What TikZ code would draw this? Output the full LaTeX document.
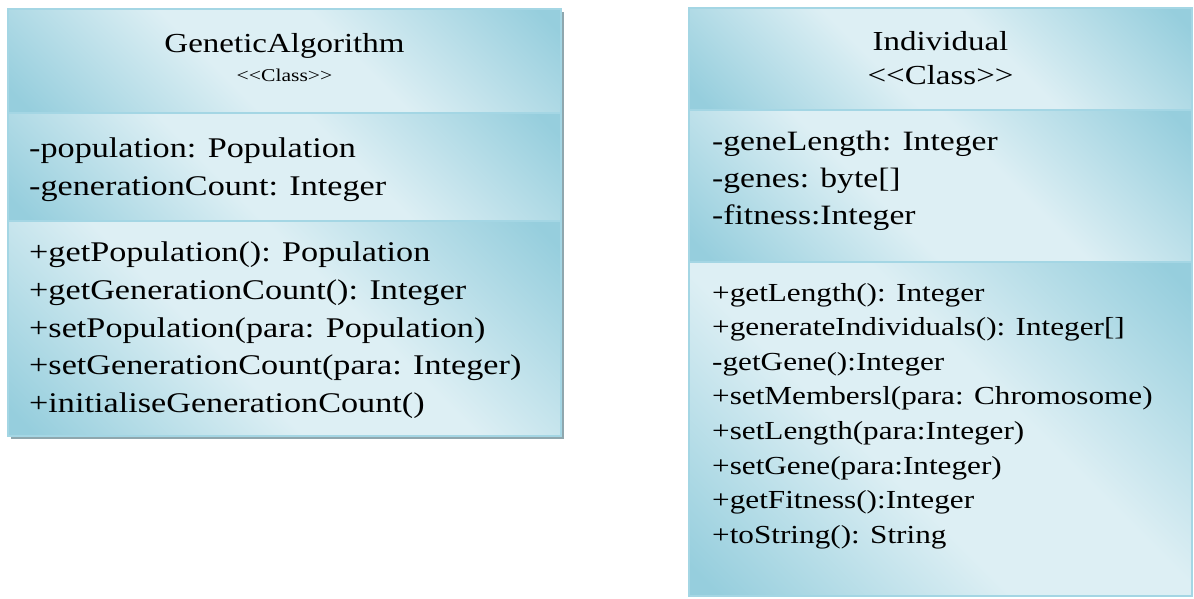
\documentclass[tikz,border=0pt]{standalone}
\usepackage{fontspec}
\setmainfont[FakeStretch=1.2]{Liberation Serif}
\usetikzlibrary{calc}
\definecolor{umlDark}{HTML}{96CEDD}
\definecolor{umlLight}{HTML}{DDEFF4}
\definecolor{umlEdge}{HTML}{A4D6E4}
\definecolor{umlShadow}{HTML}{8FA7AE}
\pgfdeclarehorizontalshading{umlGlass}{100bp}{color(0bp)=(umlDark); color(17bp)=(umlDark); color(42bp)=(umlLight); color(58bp)=(umlLight); color(83bp)=(umlDark); color(100bp)=(umlDark)}
\newcommand{\stereoClass}{<\kern0pt<Class>\kern0pt>}
\tikzset{
  compart/.style={shading=umlGlass, shading angle=45, draw=umlEdge, line width=1.5pt},
  classname/.style={anchor=base, inner sep=0pt, font=\fontsize{27.5}{33}\selectfont},
  member/.style={anchor=base west, inner sep=0pt, font=\fontsize{28.5}{34}\selectfont},
  smallmember/.style={member, font=\fontsize{26}{31}\selectfont},
}

\begin{document}
\begin{tikzpicture}[x=1pt,y=-1pt]
  \useasboundingbox (0,0) rectangle (1194,598);
  %CORNERS
  \coordinate (gaTL) at (8,9);
  \coordinate (gaBR) at (561,436);
  \coordinate (indTL) at (689,8);
  \coordinate (indBR) at (1192,596);
  %SHADOW
  \fill[umlShadow] ($(gaTL)+(3,3)$) rectangle ($(gaBR)+(3,3)$);
  %GENETICALGORITHM BOX
  \shade[compart] (gaTL) rectangle (561,113);
  \shade[compart] (8,113) rectangle (561,221);
  \shade[compart] (8,221) rectangle (gaBR);
  \node[classname] (gaName) at (284.5,52) {GeneticAlgorithm};
  \node[classname, font=\fontsize{18}{22}\selectfont] (gaStereo) at (284.5,81) {\stereoClass};
  \node[member] (gaAttr1) at (29,157) {-population: Population};
  \node[member] (gaAttr2) at (29,195) {-generationCount: Integer};
  \node[member] (gaOp1) at (29,261) {+getPopulation(): Population};
  \node[member] (gaOp2) at (29,299) {+getGenerationCount(): Integer};
  \node[member] (gaOp3) at (29,337) {+setPopulation(para: Population)};
  \node[member] (gaOp4) at (29,374.5) {+setGenerationCount(para: Integer)};
  \node[member] (gaOp5) at (29,412) {+initialiseGenerationCount()};
  %INDIVIDUAL BOX
  \shade[compart] (indTL) rectangle (1192,110);
  \shade[compart] (689,110) rectangle (1192,262);
  \shade[compart] (689,262) rectangle (indBR);
  \node[classname] (indName) at (940.5,50) {Individual};
  \node[classname] (indStereo) at (940.5,84) {\stereoClass};
  \node[member, font=\fontsize{28}{34}\selectfont] (indAttr1) at (712,150) {-geneLength: Integer};
  \node[member, font=\fontsize{28}{34}\selectfont] (indAttr2) at (712,187) {-genes: byte[]};
  \node[member, font=\fontsize{28}{34}\selectfont] (indAttr3) at (712,224) {-fitness:Integer};
  \node[smallmember] (indOp1) at (712,301) {+getLength(): Integer};
  \node[smallmember] (indOp2) at (712,335.6) {+generateIndividuals(): Integer[]};
  \node[smallmember] (indOp3) at (712,370.2) {-getGene():Integer};
  \node[smallmember] (indOp4) at (712,404.8) {+setMembersl(para: Chromosome)};
  \node[smallmember] (indOp5) at (712,439.4) {+setLength(para:Integer)};
  \node[smallmember] (indOp6) at (712,474) {+setGene(para:Integer)};
  \node[smallmember] (indOp7) at (712,508.6) {+getFitness():Integer};
  \node[smallmember] (indOp8) at (712,543.2) {+toString(): String};
\end{tikzpicture}
\end{document}
